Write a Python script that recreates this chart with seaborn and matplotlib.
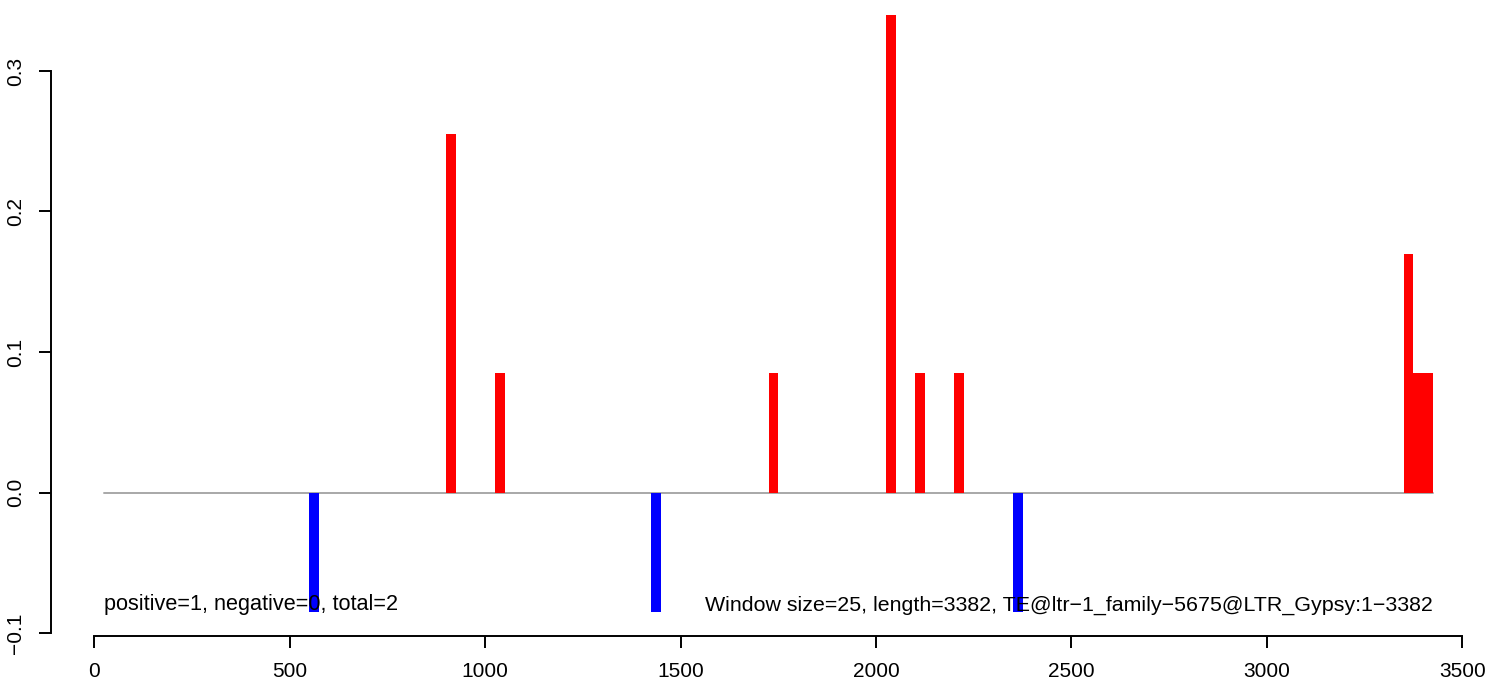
import pandas as pd
import matplotlib
matplotlib.use("Agg")
import matplotlib.pyplot as plt
import seaborn as sns

# window start positions (bp) and signal values
pos_windows = [900, 1025, 1725, 2025, 2100, 2200, 3350, 3375, 3400]
pos_values = [0.255, 0.085, 0.085, 0.34, 0.085, 0.085, 0.17, 0.085, 0.085]
neg_windows = [550, 1425, 2350]
neg_values = [-0.085, -0.085, -0.085]

window_size = 25
seq_start = 25
seq_end = 3425
left_note = "positive=1, negative=0, total=2"
right_note = "Window size=25, length=3382, TE@ltr\u22121_family\u22125675@LTR_Gypsy:1\u22123382"

x_ticks = [0, 500, 1000, 1500, 2000, 2500, 3000, 3500]
y_ticks = [-0.1, 0.0, 0.1, 0.2, 0.3]

df = pd.DataFrame({
    "x": [w + window_size / 2 for w in pos_windows + neg_windows],
    "y": pos_values + neg_values,
    "strand": ["pos"] * len(pos_windows) + ["neg"] * len(neg_windows),
})

sns.set_style("ticks")
plt.rcParams["font.family"] = ["Liberation Sans", "DejaVu Sans"]
plt.rcParams["text.color"] = "black"

fig = plt.figure(figsize=(14.9, 6.87), dpi=100)
ax = fig.add_axes([51 / 1490, 1 - 636 / 687, (1486 - 51) / 1490, 636 / 687])

sns.lineplot(x=[seq_start, seq_end], y=[0, 0], color="#a8a8a8", linewidth=1.4, ax=ax, zorder=1)
sns.barplot(data=df, x="x", y="y", hue="strand", palette={"pos": "#ff0000", "neg": "#0000ff"},
            saturation=1, native_scale=True, dodge=False, width=1.0, errorbar=None,
            linewidth=0, legend=False, ax=ax, zorder=2)

ax.text(seq_start, -0.08, left_note, ha="left", va="center", fontsize=15.6, color="black")
ax.text(seq_end, -0.08, right_note, ha="right", va="center", fontsize=15.4, color="black")

ax.set_xlim(-111, 3561)
ax.set_ylim(-0.1021, 0.3505)
ax.set_xticks(x_ticks)
ax.set_xticklabels([str(t) for t in x_ticks])
ax.set_yticks(y_ticks)
ax.set_yticklabels(["\u22120.1", "0.0", "0.1", "0.2", "0.3"], rotation=90, va="center")
ax.set_xlabel("")
ax.set_ylabel("")

for s in ["top", "right"]:
    ax.spines[s].set_visible(False)
ax.spines["left"].set_bounds(-0.1, 0.3)
ax.spines["bottom"].set_bounds(0, 3500)
for s in ["left", "bottom"]:
    ax.spines[s].set_linewidth(1.4)
    ax.spines[s].set_color("black")
ax.tick_params(axis="both", length=8.5, width=1.4, labelsize=15, colors="black", pad=10)

fig.savefig("out.png", dpi=100)
